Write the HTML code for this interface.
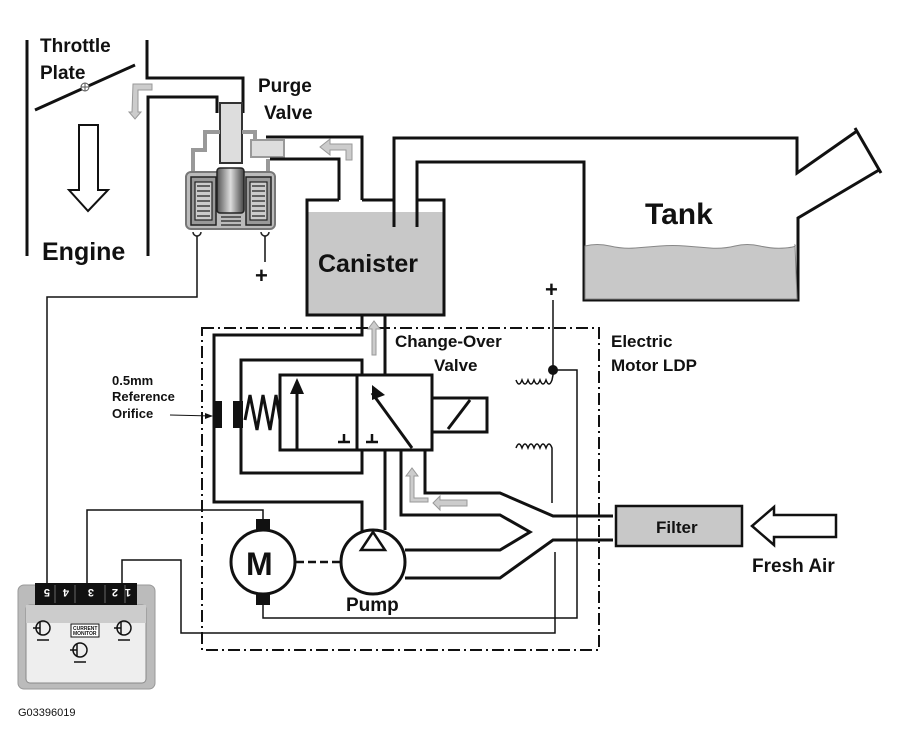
<!DOCTYPE html>
<html><head><meta charset="utf-8"><style>
html,body{margin:0;padding:0;background:#fff;}
svg{display:block;}
text{font-family:"Liberation Sans",sans-serif;font-weight:bold;fill:#111;}
</style></head><body>
<svg width="900" height="751" viewBox="0 0 900 751" xmlns="http://www.w3.org/2000/svg">
<g fill="none" stroke="#111" stroke-width="3">
<line x1="27" y1="40" x2="27" y2="256"/>
<polyline points="147,40 147,78 243,78 243,113"/>
<polyline points="148,256 148,97 217,97 217,113"/>
<line x1="35" y1="110" x2="135" y2="65"/>
</g>
<circle cx="85" cy="87" r="4" fill="#fff" stroke="#555" stroke-width="1"/>
<line x1="81" y1="87" x2="89" y2="87" stroke="#555" stroke-width="1"/>
<line x1="85" y1="83" x2="85" y2="91" stroke="#555" stroke-width="1"/>
<text x="40" y="52" font-size="19">Throttle</text>
<text x="40" y="79" font-size="19">Plate</text>
<text x="42" y="260" font-size="25">Engine</text>
<polygon points="79,125 98,125 98,190 108,190 88,211 69,190 79,190" fill="#fff" stroke="#111" stroke-width="2"/>
<polygon points="133,84 152,84 152,90 138,90 138,112 141,112 135,119 129,112 132,112" fill="#ccc" stroke="#999" stroke-width="1"/>
<polygon points="352,160 346,160 346,150 330,150 330,155 320,147 330,139 330,144 352,144" fill="#ccc" stroke="#999" stroke-width="1"/>
<rect x="220" y="103" width="22" height="60" fill="#ddd" stroke="#333" stroke-width="2"/>
<polyline points="220,132 205,132 205,150 193,150 193,172" fill="none" stroke="#999" stroke-width="4"/>
<polyline points="242,132 255,132 255,140" fill="none" stroke="#999" stroke-width="4"/>
<rect x="251" y="140" width="33" height="17" fill="#ddd" stroke="#999" stroke-width="2"/>
<line x1="268" y1="159" x2="268" y2="172" stroke="#999" stroke-width="4"/>
<rect x="186" y="172" width="89" height="57" rx="5" fill="#bbb" stroke="#777" stroke-width="2"/>
<rect x="191" y="177" width="25" height="48" fill="#999" stroke="#222" stroke-width="1.5"/>
<rect x="246" y="177" width="25" height="48" fill="#999" stroke="#222" stroke-width="1.5"/>
<g fill="none" stroke="#222" stroke-width="1.2">
<rect x="195" y="182" width="17" height="38" fill="#ccc"/>
<rect x="250" y="182" width="17" height="38" fill="#ccc"/>
<path d="M197,186h13M197,191h13M197,196h13M197,201h13M197,206h13M197,211h13M197,216h13"/>
<path d="M252,186h13M252,191h13M252,196h13M252,201h13M252,206h13M252,211h13M252,216h13"/>
<path d="M221,217h20M221,221h20M221,225h20"/>
</g>
<defs><linearGradient id="pl" x1="0" x2="1"><stop offset="0" stop-color="#555"/><stop offset=".5" stop-color="#ddd"/><stop offset="1" stop-color="#444"/></linearGradient></defs>
<rect x="217" y="168" width="27" height="45" rx="3" fill="url(#pl)" stroke="#222" stroke-width="1.5"/>
<path d="M193,232 a4,4 0 0 0 8,0 M261,232 a4,4 0 0 0 8,0" fill="none" stroke="#222" stroke-width="1.5"/>
<line x1="265" y1="236" x2="265" y2="262" stroke="#111" stroke-width="1.5"/>
<text x="255" y="283" font-size="22">+</text>
<text x="258" y="92" font-size="19">Purge</text>
<text x="264" y="119" font-size="19">Valve</text>
<g fill="none" stroke="#111" stroke-width="3">
<polyline points="266,137 362,137 362,200"/>
<polyline points="270,159 339,159 339,200"/>
<polyline points="394,227 394,138 797,138 797,173 857,131"/>
<line x1="855" y1="128" x2="881" y2="173"/>
<polyline points="879,170 798,218 798,300 584,300 584,162 417,162 417,227"/>
</g>
<path d="M585,246 q12,-3 25,0 t25,2 t25,-2 t25,0 t25,2 t25,-2 t25,0 t25,2 t10,-3 L797,299 L585,299 Z" fill="#c8c8c8" stroke="#888" stroke-width="1"/>
<text x="645" y="224" font-size="30">Tank</text>
<rect x="307" y="212" width="137" height="103" fill="#c8c8c8"/>
<polyline points="339,200 307,200 307,315 444,315 444,200 417,200" fill="none" stroke="#111" stroke-width="3"/>
<line x1="362" y1="200" x2="394" y2="200" stroke="#111" stroke-width="3"/>
<line x1="394" y1="200" x2="394" y2="227" stroke="#111" stroke-width="3"/>
<line x1="417" y1="200" x2="417" y2="227" stroke="#111" stroke-width="3"/>
<text x="318" y="272" font-size="25">Canister</text>
<rect x="202" y="328" width="397" height="322" fill="none" stroke="#111" stroke-width="2" stroke-dasharray="12,4,2,4"/>
<text x="395" y="347" font-size="17">Change-Over</text>
<text x="434" y="371" font-size="17">Valve</text>
<text x="611" y="347" font-size="17">Electric</text>
<text x="611" y="371" font-size="17">Motor LDP</text>
<text x="112" y="385" font-size="13">0.5mm</text>
<text x="112" y="401" font-size="13">Reference</text>
<text x="112" y="418" font-size="13">Orifice</text>
<line x1="170" y1="415" x2="212" y2="416" stroke="#111" stroke-width="1"/>
<polygon points="205,413 213,416 205,419" fill="#111"/>
<polygon points="372,355 372,329 368,329 374,321 380,329 376,329 376,355" fill="#ccc" stroke="#999"/>
<g fill="none" stroke="#111" stroke-width="3">
<polyline points="362,315 362,335 214,335 214,502 362,502 362,533"/>
<polyline points="385,315 385,375"/>
<polyline points="362,375 362,360 241,360 241,473 362,473 362,450"/>
<rect x="280" y="375" width="152" height="75"/>
<line x1="357" y1="375" x2="357" y2="450"/>
<polyline points="432,398 487,398 487,432 432,432"/>
<line x1="448" y1="429" x2="470" y2="400"/>
<polyline points="245,420 250,395 257,430 263,395 270,430 276,395 280,420"/>
<line x1="297" y1="450" x2="297" y2="390"/>
<line x1="385" y1="450" x2="385" y2="530"/>
<polyline points="401,450 401,515 500,515 530,532 500,550 405,550"/>
<polyline points="425,450 425,493 500,493 553,516 613,516"/>
<polyline points="613,540 553,540 500,578 405,578"/>
<path d="M338,442h12M344,442v-8M366,442h12M372,442v-8" stroke-width="2.5"/>
<line x1="412" y1="448" x2="372" y2="393"/>
</g>
<polygon points="297,378 290,394 304,394" fill="#111"/>
<polygon points="372,385 372,400 385,395" fill="#111"/>
<rect x="214" y="401" width="8" height="27" fill="#111"/>
<rect x="233" y="401" width="10" height="27" fill="#111"/>
<polygon points="410,502 410,476 406,476 412,468 418,476 414,476 414,498 428,498 428,502" fill="#ccc" stroke="#999"/>
<polygon points="467,500 440,500 440,496 433,503 440,510 440,506 467,506" fill="#ccc" stroke="#999"/>
<circle cx="263" cy="562" r="32" fill="#fff" stroke="#111" stroke-width="3"/>
<rect x="256" y="519" width="14" height="12" fill="#111"/>
<rect x="256" y="593" width="14" height="12" fill="#111"/>
<text x="246" y="575" font-size="32">M</text>
<line x1="296" y1="562" x2="341" y2="562" stroke="#111" stroke-width="2.5" stroke-dasharray="8,4"/>
<circle cx="373" cy="562" r="32" fill="#fff" stroke="#111" stroke-width="3"/>
<polygon points="373,532 361,550 385,550" fill="#fff" stroke="#111" stroke-width="2.5"/>
<text x="346" y="611" font-size="19">Pump</text>
<path d="M516,380 q3,8 6,0 q3,8 6,0 q3,8 6,0 q3,8 6,0 q3,8 6,0 q3,8 6,0 l2,-10" fill="none" stroke="#111" stroke-width="1.5"/>
<path d="M516,448 q3,-8 6,0 q3,-8 6,0 q3,-8 6,0 q3,-8 6,0 q3,-8 6,0 q3,-8 6,0 l0,55" fill="none" stroke="#111" stroke-width="1.5"/>
<circle cx="553" cy="370" r="5" fill="#111"/>
<text x="545" y="297" font-size="22">+</text>
<g fill="none" stroke="#111" stroke-width="1.5">
<line x1="553" y1="300" x2="553" y2="370"/>
<polyline points="553,370 577,370 577,618 263,618 263,605"/>
<polyline points="555,552 555,633 181,633 181,560 122,560 122,620"/>
<polyline points="263,519 263,510 87,510 87,640"/>
<polyline points="197,236 197,297 47,297 47,620"/>
</g>
<rect x="616" y="506" width="126" height="40" fill="#c8c8c8" stroke="#111" stroke-width="2.5"/>
<text x="656" y="533" font-size="17">Filter</text>
<polygon points="836,515 774,515 774,507 752,526 774,545 774,537 836,537" fill="#fff" stroke="#111" stroke-width="2.5"/>
<text x="752" y="572" font-size="19">Fresh Air</text>
<rect x="18" y="585" width="137" height="104" rx="6" fill="#bbb" stroke="#999"/>
<rect x="26" y="605" width="120" height="78" rx="4" fill="#eee" stroke="#888"/>
<rect x="26" y="605" width="120" height="18" fill="#ccc"/>
<rect x="35" y="583" width="102" height="22" fill="#111"/>
<g stroke="#666" stroke-width="1"><path d="M55,585v18M75,585v18M105,585v18M125,585v18"/></g>
<g font-size="11">
<text x="0" y="0" transform="translate(50,589) rotate(180)" style="fill:#fff">5</text>
<text x="0" y="0" transform="translate(69,589) rotate(180)" style="fill:#fff">4</text>
<text x="0" y="0" transform="translate(94,589) rotate(180)" style="fill:#fff">3</text>
<text x="0" y="0" transform="translate(118,589) rotate(180)" style="fill:#fff">2</text>
<text x="0" y="0" transform="translate(131,589) rotate(180)" style="fill:#fff">1</text>
</g>
<g fill="none" stroke="#111" stroke-width="1.5">
<circle cx="43" cy="628" r="7"/><path d="M33,628h7M40,622v12M43,640h-6h12"/>
<circle cx="80" cy="650" r="7"/><path d="M70,650h7M77,644v12M80,662h-6h12"/>
<circle cx="124" cy="628" r="7"/><path d="M114,628h7M121,622v12M124,640h-6h12"/>
</g>
<rect x="71" y="624" width="28" height="13" fill="#fff" stroke="#111" stroke-width="1"/>
<text x="73" y="630" font-size="5">CURRENT</text>
<text x="73" y="635" font-size="5">MONITOR</text>
<text x="18" y="716" font-size="11" style="font-weight:normal">G03396019</text>
</svg>
</body></html>
